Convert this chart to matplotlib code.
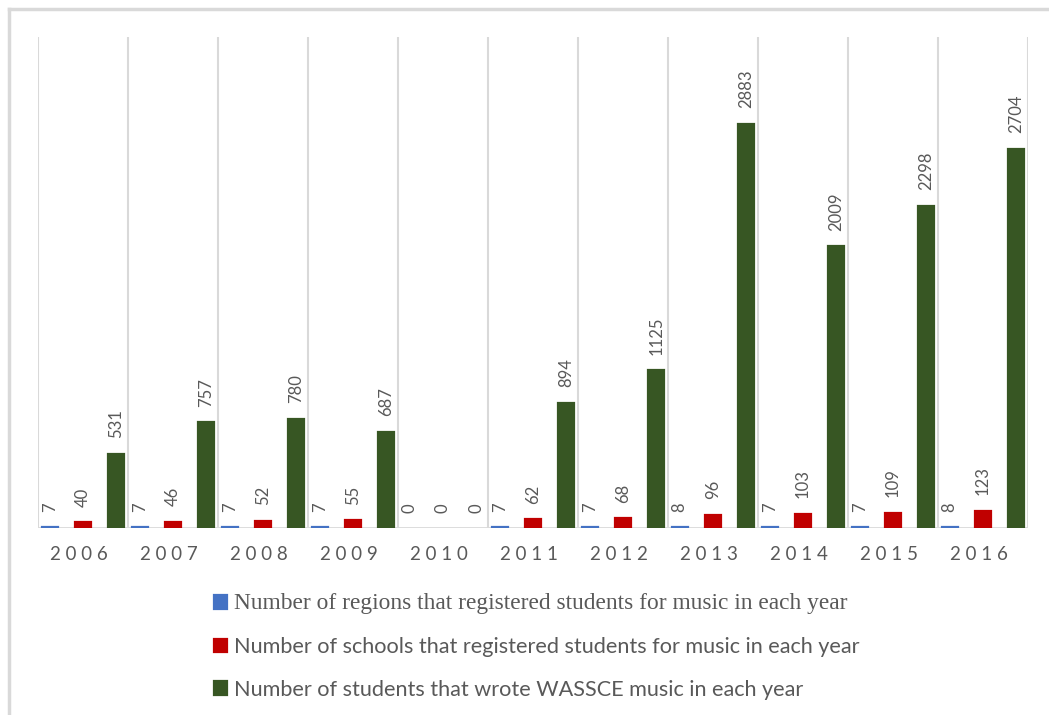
import numpy as np
import matplotlib.pyplot as plt
import matplotlib.transforms as mtransforms
from matplotlib.lines import Line2D

# Données du graphique
years = ['2006', '2007', '2008', '2009', '2010', '2011', '2012', '2013', '2014', '2015', '2016']
regions = [7, 7, 7, 7, 0, 7, 7, 8, 7, 7, 8]
schools = [40, 46, 52, 55, 0, 62, 68, 96, 103, 109, 123]
students = [531, 757, 780, 687, 0, 894, 1125, 2883, 2009, 2298, 2704]
series_labels = [
    'Number of regions that registered students for music in each year',
    'Number of schools that registered students for music in each year',
    'Number of students that wrote WASSCE music in each year',
]
colors = ['#4472C4', '#C00000', '#375623']
label_color = '#595959'
grid_color = '#D9D9D9'

fig = plt.figure(figsize=(10.49, 7.15), dpi=100)
ax = fig.add_axes([38 / 1049, 1 - 528 / 715, 990 / 1049, (528 - 37) / 715])

x = np.arange(len(years))
width = 0.18
offsets = [-0.37, 0.0, 0.37]
series = [regions, schools, students]

for vals, off, col, lab in zip(series, offsets, colors, series_labels):
    # pas de contour pour les valeurs nulles (2010)
    lws = [1.6 if v > 0 else 0 for v in vals]
    bars = ax.bar(x + off, vals, width, color=col, edgecolor=col, lw=lws,
                  label=lab, zorder=3)
    for b, v in zip(bars, vals):
        ax.annotate(str(v), (b.get_x() + b.get_width() / 2, b.get_height()),
                    xytext=(0, 11), textcoords='offset points', rotation=90,
                    ha='center', va='bottom', fontsize=12, color=label_color,
                    family='Lato')

ax.set_xlim(-0.5, len(years) - 0.5)
ax.set_ylim(0, 3500)

# lignes verticales entre les catégories
for g in np.arange(-0.5, len(years), 1.0):
    ax.axvline(g, color=grid_color, lw=1.5, zorder=1)
ax.axhline(0, color=grid_color, lw=2, zorder=2)

for s in ax.spines.values():
    s.set_visible(False)
ax.set_yticks([])
ax.set_xticks(x)
ax.set_xticklabels([' '.join(y) for y in years], fontsize=13.5, color=label_color,
                   family='Lato')
ax.tick_params(axis='x', length=0, pad=13)
shift = mtransforms.ScaledTranslation(-4 / 100, 0, fig.dpi_scale_trans)
for lbl in ax.get_xticklabels():
    lbl.set_transform(lbl.get_transform() + shift)

leg = fig.legend(loc='upper left', bbox_to_anchor=(194 / 1049, 1 - 574 / 715),
                 frameon=False, handlelength=0.6, handleheight=0.6,
                 handletextpad=0.35, labelspacing=1.05, fontsize=15.6,
                 labelcolor=label_color)
texts = leg.get_texts()
texts[0].set_family('Liberation Serif')
texts[0].set_fontsize(16.8)
for t in texts[1:]:
    t.set_family('Lato')

# cadre gris en haut et à gauche
fig.add_artist(Line2D([9 / 1049, 9 / 1049], [0, 1 - 9 / 715], color=grid_color, lw=2.5,
                      transform=fig.transFigure))
fig.add_artist(Line2D([9 / 1049, 1], [1 - 9 / 715, 1 - 9 / 715], color=grid_color, lw=2.5,
                      transform=fig.transFigure))

fig.savefig('out.png', dpi=100)
